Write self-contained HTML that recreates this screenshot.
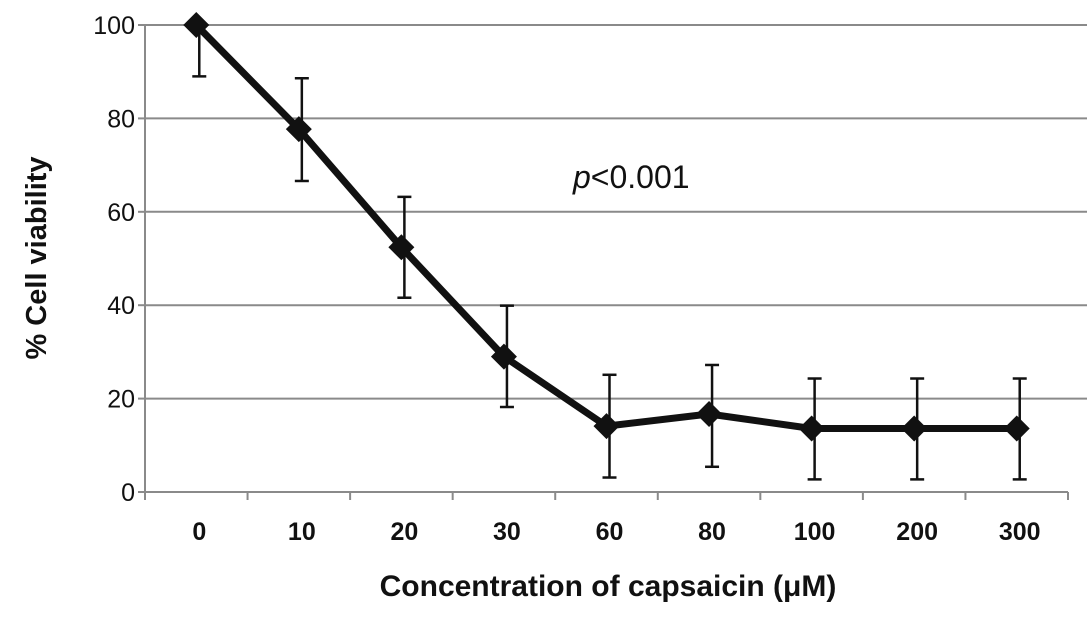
<!DOCTYPE html>
<html><head><meta charset="utf-8"><style>
body{margin:0;background:#fff;}
svg{display:block;font-family:"Liberation Sans",sans-serif;}
</style></head><body>
<svg id="chart" width="1087" height="620" viewBox="0 0 1087 620" xmlns="http://www.w3.org/2000/svg">
<g id="grid"></g>
<g id="axes"></g>
<g id="err"></g>
<g id="series"></g>
<text x="573" y="188" font-size="32" fill="#111"><tspan font-style="italic">p</tspan>&lt;0.001</text>
<text x="608" y="596" font-size="30" font-weight="bold" text-anchor="middle" fill="#111">Concentration of capsaicin (μM)</text>
<text transform="translate(46,258) rotate(-90)" font-size="29" font-weight="bold" text-anchor="middle" fill="#111">% Cell viability</text>
</svg>
<script>
const categories=["0","10","20","30","60","80","100","200","300"];
const viability=[100,77.7,52.4,29.0,14.1,16.7,13.6,13.6,13.6];
const errUpper=[100,88.6,63.2,39.9,25.1,27.2,24.3,24.3,24.3];
const errLower=[89,66.6,41.6,18.2,3.1,5.4,2.7,2.7,2.7];
const yTicks=[0,20,40,60,80,100];
const NS="http://www.w3.org/2000/svg";
const x0=145,x1=1068,yTop=25,yBot=492,yMax=100;
const bw=(x1-x0)/categories.length;
const xs=i=>x0+bw*(i+0.5);
const ys=v=>yBot-(v/yMax)*(yBot-yTop);
function mk(tag,attrs,parent){const e=document.createElementNS(NS,tag);for(const k in attrs)e.setAttribute(k,attrs[k]);parent.appendChild(e);return e;}
const grid=document.getElementById('grid'),axes=document.getElementById('axes'),err=document.getElementById('err'),ser=document.getElementById('series');
yTicks.forEach(t=>{
  const y=ys(t);
  if(t>0){const l=mk('line',{x1:x0,x2:1087,y1:y,y2:y,stroke:'#8a8a8a','stroke-width':2},grid);
  
  }
  const tk=mk('line',{x1:x0-7,x2:x0,y1:y,y2:y,stroke:'#8a8a8a','stroke-width':2},axes);
  
  
  const tx=mk('text',{x:x0-10,y:y+9,'font-size':25,'text-anchor':'end',fill:'#111'},axes);
  tx.textContent=t;
  
  
});
const ya=mk('line',{x1:x0,x2:x0,y1:yTop,y2:yBot+8,stroke:'#8a8a8a','stroke-width':2},axes);


const xa=mk('line',{x1:x0,x2:x1,y1:yBot,y2:yBot,stroke:'#8a8a8a','stroke-width':2},axes);


for(let i=0;i<=categories.length;i++){
  const tk=mk('line',{x1:x0+bw*i,x2:x0+bw*i,y1:yBot,y2:yBot+8,stroke:'#8a8a8a','stroke-width':2},axes);
  
  
}
categories.forEach((c,i)=>{
  const tx=mk('text',{x:xs(i)+3,y:540,'font-size':25,'font-weight':'bold','text-anchor':'middle',fill:'#111'},axes);
  tx.textContent=c;
  
  
});
categories.forEach((c,i)=>{
  const x=xs(i)+3,a=ys(errUpper[i]),b=ys(errLower[i]);
  const g=mk('g',{stroke:'#111','stroke-width':2.5},err);
  
  
  mk('line',{x1:x,x2:x,y1:a,y2:b},g);
  mk('line',{x1:x-7,x2:x+7,y1:a,y2:a},g);
  mk('line',{x1:x-7,x2:x+7,y1:b,y2:b},g);
});
const pts=viability.map((v,i)=>xs(i)+','+ys(v)).join(' ');
const pl=mk('polyline',{points:pts,fill:'none',stroke:'#111','stroke-width':7,'stroke-linejoin':'round'},ser);


viability.forEach((v,i)=>{
  const x=xs(i),y=ys(v),r=13;
  const d=mk('polygon',{points:`${x},${y-r} ${x+r},${y} ${x},${y+r} ${x-r},${y}`,fill:'#111'},ser);
  
  
});
</script>
</body></html>
